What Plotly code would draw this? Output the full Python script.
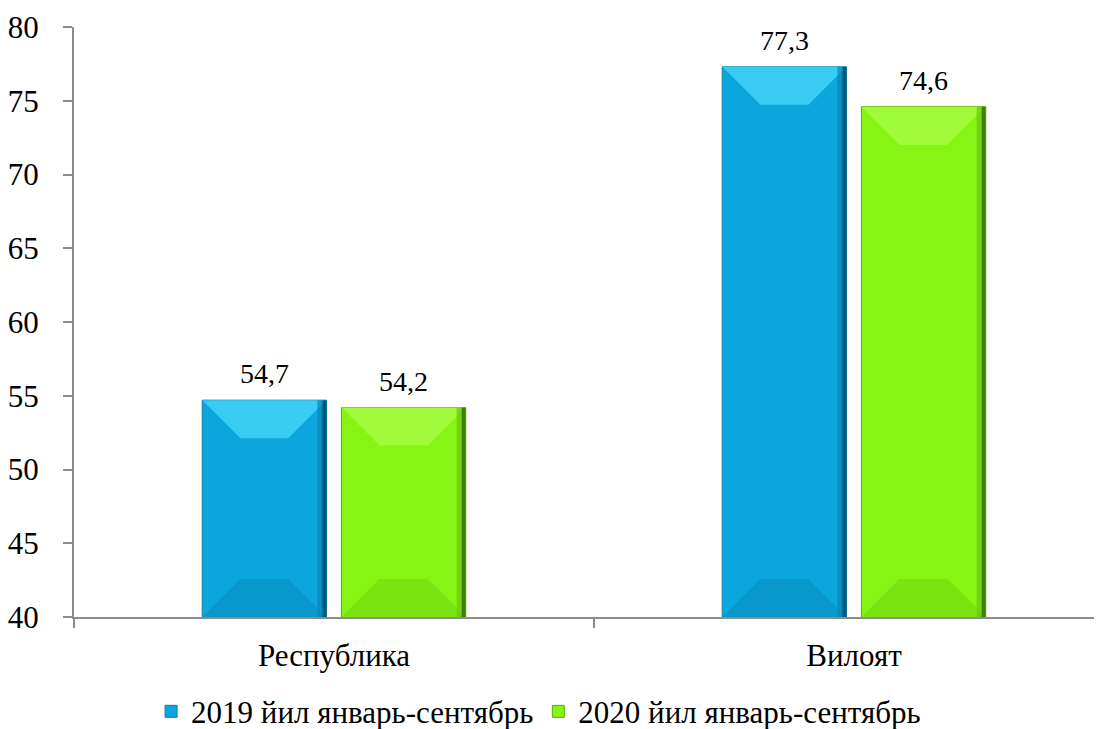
import plotly.graph_objects as go

categories = ["Республика", "Вилоят"]
series_names = ["2019 йил январь-сентябрь", "2020 йил январь-сентябрь"]
values_2019 = [54.7, 77.3]
values_2020 = [54.2, 74.6]
y_ticks = [40, 45, 50, 55, 60, 65, 70, 75, 80]

FONT = "'Liberation Serif', 'Times New Roman', 'DejaVu Serif', serif"
main_colors = ["#0AA6DC", "#86F513"]
top_colors = ["#38CCF3", "#A0FC3A"]
bottom_colors = ["#0998CB", "#7BE410"]
edge_mid = ["#0784B3", "#69C40E"]
edge_dark = ["#05577A", "#3F7F08"]
line_colors = ["#0A7FA8", "#5FA80C"]

BARGAP = 0.4645
BARGROUPGAP = 0.107
Y_MIN, Y_MAX = 40, 80

fig = go.Figure()
all_vals = [values_2019, values_2020]
for k, (name, vals) in enumerate(zip(series_names, all_vals)):
    fig.add_trace(go.Bar(
        x=categories, y=vals, name=name,
        marker=dict(color=main_colors[k], line=dict(color=line_colors[k], width=1)),
        cliponaxis=False,
    ))

slot = (1 - BARGAP) / 2
half_px = 62
bev = 38
shapes = []
annotations = []
for k, vals in enumerate(all_vals):
    for i, v in enumerate(vals):
        xc = i + (k - 0.5) * slot
        shapes.append(dict(type="path", xref="x", yref="y", xsizemode="pixel", ysizemode="pixel",
                           xanchor=xc, yanchor=v,
                           path=f"M {-half_px},0 L {half_px},0 L {half_px-bev},{-bev} L {-half_px+bev},{-bev} Z",
                           fillcolor=top_colors[k], line=dict(width=0), layer="above"))
        shapes.append(dict(type="path", xref="x", yref="y", xsizemode="pixel", ysizemode="pixel",
                           xanchor=xc, yanchor=Y_MIN,
                           path=f"M {-half_px},0 L {half_px},0 L {half_px-bev},{bev} L {-half_px+bev},{bev} Z",
                           fillcolor=bottom_colors[k], line=dict(width=0), layer="above"))
        shapes.append(dict(type="rect", xref="x", yref="y", xsizemode="pixel",
                           xanchor=xc, x0=half_px - 9, x1=half_px - 4, y0=Y_MIN, y1=v,
                           fillcolor=edge_mid[k], line=dict(width=0), layer="above", opacity=0.7))
        shapes.append(dict(type="rect", xref="x", yref="y", xsizemode="pixel",
                           xanchor=xc, x0=half_px - 4, x1=half_px, y0=Y_MIN, y1=v,
                           fillcolor=edge_dark[k], line=dict(width=0), layer="above"))
        annotations.append(dict(x=xc, y=v, xref="x", yref="y", text=f"{v:.1f}".replace(".", ","),
                                showarrow=False, yanchor="bottom", yshift=9,
                                font=dict(family=FONT, size=28, color="#000000")))

fig.update_layout(
    width=1094, height=721,
    margin=dict(l=64, r=0, t=19, b=112),
    paper_bgcolor="white", plot_bgcolor="white",
    barmode="group", bargap=BARGAP, bargroupgap=BARGROUPGAP,
    separators=", ",
    font=dict(family=FONT, size=31, color="#000000"),
    showlegend=True,
    legend=dict(orientation="h", xref="container", yref="container",
                x=0.485, xanchor="center", y=0.024, yanchor="middle",
                font=dict(family=FONT, size=31), itemwidth=30,
                tracegroupgap=0),
    shapes=shapes,
    annotations=annotations,
)
fig.update_xaxes(
    type="category", range=[-0.5, 1.477],
    showline=True, linecolor="#8C8C8C", linewidth=2,
    ticks="outside", tickson="boundaries", ticklen=9, tickcolor="#8C8C8C", tickwidth=2,
    showgrid=False, ticklabelstandoff=10,
    tickfont=dict(family=FONT, size=31),
)
fig.update_yaxes(
    range=[Y_MIN, Y_MAX], tickvals=y_ticks,
    showline=True, linecolor="#8C8C8C", linewidth=2,
    ticks="outside", ticklen=9, tickcolor="#8C8C8C", tickwidth=2,
    showgrid=False, zeroline=False, ticklabelstandoff=18,
    tickfont=dict(family=FONT, size=31),
)

fig.write_html("out.html")
